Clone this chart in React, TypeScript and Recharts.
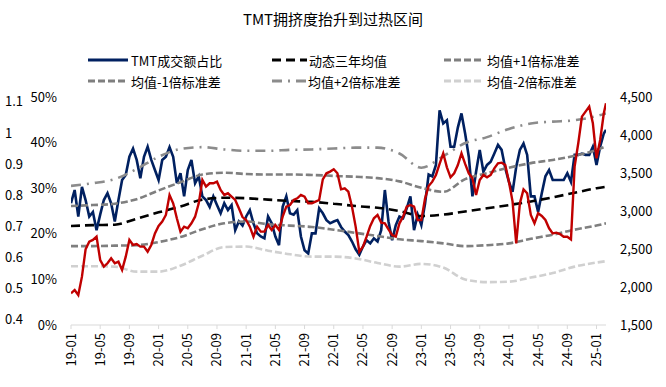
import React from 'react';
import { LineChart, Line, XAxis, YAxis } from 'recharts';

const FONT = '"Noto Sans CJK SC", "Noto Sans", sans-serif';

// TMT成交额占比 (%), semi-monthly observations from 2019-01, last one 2025-02-10
const shareValues: number[] = [
  26.7, 29.6, 23.8, 30.3, 27.4, 23.8, 24.8, 20.8, 24.2, 27.4, 28.9, 26.7,
  22.7, 27.4, 31.8, 32.9, 36.9, 38.7, 36.2, 32.2, 36.9, 39.1, 36.2, 34.0,
  31.8, 36.2, 36.9, 39.0, 36.9, 31.1, 33.3, 28.2, 34.0, 36.2, 31.1, 32.6,
  28.2, 27.4, 25.9, 28.2, 26.3, 24.5, 26.7, 25.2, 26.3, 20.8, 22.7, 21.8,
  23.8, 25.2, 22.3, 20.1, 19.4, 19.0, 23.8, 22.3, 19.4, 17.5, 25.9, 28.2,
  24.5, 24.2, 25.2, 19.4, 16.4, 15.7, 20.1, 20.1, 25.6, 24.5, 23.0, 22.3,
  22.7, 23.0, 21.5, 20.5, 19.7, 18.3, 16.6, 15.4, 17.2, 18.6, 17.9, 19.0,
  18.3, 20.8, 29.6, 22.7, 18.6, 21.9, 23.8, 23.4, 25.6, 28.2, 20.8, 24.2,
  21.9, 26.5, 33.0, 32.6, 35.1, 47.1, 44.2, 44.9, 39.1, 39.1, 43.3, 46.4,
  42.0, 36.9, 28.2, 33.6, 38.4, 33.6, 35.1, 35.8, 37.6, 39.5, 38.4, 34.4,
  31.4, 29.2, 34.7, 38.4, 39.8, 37.3, 28.2, 28.2, 24.8, 28.9, 32.6, 34.0,
  31.8, 31.8, 31.8, 31.8, 33.3, 31.4, 37.3, 37.3, 37.6, 37.3, 37.3, 39.1,
  35.1, 39.1, 42.0, 42.8,
];

// TMT index (right axis), same observation dates
const indexValues: number[] = [
  1917, 1961, 1895, 2136, 2496, 2597, 2619, 2662, 2355, 2268, 2312, 2377,
  2312, 2333, 2224, 2399, 2619, 2553, 2566, 2531, 2531, 2465, 2553, 2706,
  2803, 2860, 2948, 3211, 3101, 2904, 2728, 2794, 2772, 2838, 2925, 3101,
  3408, 3320, 3365, 3365, 3386, 3277, 3211, 3233, 3189, 3145, 3035, 2920,
  2882, 2794, 2662, 2794, 2728, 2728, 2816, 2750, 2816, 2750, 2925, 3057,
  3079, 3145, 3167, 3211, 3189, 3101, 3101, 3123, 3145, 3417, 3496, 3518,
  3549, 3496, 3285, 3298, 3255, 3057, 2794, 2465, 2531, 2662, 2803, 2904,
  2948, 2847, 2838, 2759, 2684, 2662, 2838, 2925, 3057, 3079, 3057, 2882,
  2880, 3160, 3329, 3386, 3474, 3619, 3759, 3575, 3443, 3496, 3605, 3759,
  3619, 3496, 3430, 3211, 3408, 3474, 3443, 3474, 3562, 3627, 3636, 3605,
  3386, 3123, 2575, 3101, 3285, 3233, 2948, 2838, 2970, 2935, 2882, 2772,
  2706, 2715, 2697, 2662, 2662, 2627, 3584, 3891, 4242, 4308, 4373, 4154,
  3693, 3935, 4286, 4417,
];

// months since 2019-01 for the band series
const bandMonths: number[] = [0, 3, 6, 9, 12, 15, 18, 21, 24, 27, 30, 33, 36, 39, 42, 45, 48, 51, 54, 57, 60, 63, 66, 69, 72, 73.3];
const mean3y: number[] = [21.7, 21.9, 22.0, 23.3, 24.7, 26.0, 27.5, 27.9, 27.8, 27.5, 27.2, 27.0, 26.6, 26.1, 25.7, 25.0, 23.9, 24.2, 24.9, 25.6, 26.3, 27.1, 28.0, 29.0, 30.0, 30.3];
const plus1: number[] = [26.1, 26.3, 26.6, 27.6, 29.5, 31.3, 33.0, 33.4, 33.1, 33.0, 33.0, 32.9, 32.7, 32.5, 32.2, 31.5, 30.1, 29.2, 32.0, 33.3, 34.5, 35.5, 36.2, 37.1, 38.4, 39.2];
const minus1: number[] = [17.3, 17.3, 17.4, 17.5, 18.2, 19.3, 21.0, 22.3, 22.7, 22.1, 21.8, 21.5, 20.9, 20.2, 19.5, 18.8, 18.4, 17.9, 17.3, 17.5, 17.9, 18.9, 19.8, 20.9, 21.8, 22.3];
const plus2: number[] = [30.5, 31.1, 32.0, 34.2, 36.9, 38.6, 39.0, 38.5, 38.2, 38.2, 38.4, 38.5, 38.7, 38.9, 38.9, 37.6, 34.5, 37.0, 39.9, 41.2, 43.0, 44.2, 44.6, 44.9, 45.8, 46.4];
const minus2: number[] = [12.9, 12.9, 12.8, 11.7, 11.7, 13.0, 15.2, 17.1, 17.2, 16.3, 15.5, 15.0, 15.0, 14.6, 13.6, 12.8, 13.4, 12.6, 10.0, 9.4, 9.5, 10.4, 11.4, 12.8, 13.7, 14.0];

const xTicks: number[] = [0, 4, 8, 12, 16, 20, 24, 28, 32, 36, 40, 44, 48, 52, 56, 60, 64, 68, 72];
const pctTicks: number[] = [0, 10, 20, 30, 40, 50];
const ratioTicks: number[] = [0.4, 0.5, 0.6, 0.7, 0.8, 0.9, 1, 1.1];
const indexTicks: number[] = [1500, 2000, 2500, 3000, 3500, 4000, 4500];

const LAST_MONTH = 73.3;
const obsMonths = shareValues.map((_, i) => (i < shareValues.length - 1 ? i / 2 : LAST_MONTH));
const mainData = shareValues.map((v, i) => ({ t: obsMonths[i], share: v, idx: indexValues[i] }));
const bandData = bandMonths.map((t, i) => ({
  t,
  mean: mean3y[i],
  p1: plus1[i],
  m1: minus1[i],
  p2: plus2[i],
  m2: minus2[i],
}));

const fmtMonth = (t: number) => {
  const y = 19 + Math.floor(t / 12);
  const m = (t % 12) + 1;
  return `${y}-${m < 10 ? '0' + m : m}`;
};

const PctTick = (props: any) => (
  <text x={57} y={props.y} dy={4.5} textAnchor="end" fontSize={13} fill="#000" fontFamily={FONT}>
    {props.payload.value}%
  </text>
);
const RatioTick = (props: any) => {
  const v = props.payload.value as number;
  return (
    <text x={5} y={props.y} dy={4.5} textAnchor="start" fontSize={13} fill="#000" fontFamily={FONT}>
      {v === 1 ? '1' : v.toFixed(1)}
    </text>
  );
};
const IndexTick = (props: any) => (
  <text x={620} y={props.y} dy={4.5} textAnchor="start" fontSize={13} fill="#000" fontFamily={FONT}>
    {Number(props.payload.value).toLocaleString('en-US')}
  </text>
);
const DateTick = (props: any) => {
  const bx = props.x + 4.5;
  const by = 333;
  return (
    <text x={bx} y={by} textAnchor="end" fontSize={13} fill="#000" fontFamily={FONT} transform={`rotate(-90 ${bx} ${by})`}>
      {fmtMonth(props.payload.value)}
    </text>
  );
};

const legendItems = [
  { x: 88, w: 40, y: 60, tx: 131, label: 'TMT成交额占比', stroke: '#002060', dash: undefined as string | undefined },
  { x: 272, w: 35, y: 60, tx: 309, label: '动态三年均值', stroke: '#000000', dash: '9 5' },
  { x: 444, w: 38, y: 60, tx: 487, label: '均值+1倍标准差', stroke: '#7f7f7f', dash: '7 3' },
  { x: 88, w: 40, y: 81, tx: 131, label: '均值-1倍标准差', stroke: '#7f7f7f', dash: '7 3' },
  { x: 272, w: 35, y: 81, tx: 308, label: '均值+2倍标准差', stroke: '#8c8c8c', dash: '10 6 2 6' },
  { x: 444, w: 38, y: 81, tx: 487, label: '均值-2倍标准差', stroke: '#d0d0d0', dash: '7 3' },
];

export default function App() {
  return (
    <div style={{ position: 'absolute', left: 0, top: 0, width: 666, height: 387, background: '#fff' }}>
      <LineChart width={666} height={387} margin={{ top: 97, right: 0, bottom: 0, left: 0 }}>
        <XAxis
          xAxisId="x"
          type="number"
          dataKey="t"
          domain={[0, LAST_MONTH]}
          ticks={xTicks}
          interval={0}
          height={62}
          allowDataOverflow
          axisLine={{ stroke: '#d9d9d9' }}
          tickLine={{ stroke: '#d9d9d9' }}
          tickSize={4}
          tick={<DateTick />}
        />
        <YAxis yAxisId="pct" orientation="left" width={38} domain={[0, 50]} ticks={pctTicks} axisLine={false} tickLine={false} tick={<PctTick />} allowDataOverflow />
        <YAxis yAxisId="ratio" orientation="left" width={33} domain={[0.382, 1.116]} ticks={ratioTicks} axisLine={false} tickLine={false} tick={<RatioTick />} allowDataOverflow />
        <YAxis yAxisId="idx" orientation="right" width={60} domain={[1500, 4500]} ticks={indexTicks} axisLine={false} tickLine={false} tick={<IndexTick />} allowDataOverflow />

        <Line xAxisId="x" yAxisId="pct" data={mainData} dataKey="share" type="linear" stroke="#002060" strokeWidth={2.6} dot={false} isAnimationActive={false} />
        <Line xAxisId="x" yAxisId="pct" data={bandData} dataKey="mean" type="monotone" stroke="#000000" strokeWidth={2.6} strokeDasharray="9 5" dot={false} isAnimationActive={false} />
        <Line xAxisId="x" yAxisId="pct" data={bandData} dataKey="p1" type="monotone" stroke="#7f7f7f" strokeWidth={2.6} strokeDasharray="7 3" dot={false} isAnimationActive={false} />
        <Line xAxisId="x" yAxisId="pct" data={bandData} dataKey="m1" type="monotone" stroke="#7f7f7f" strokeWidth={2.6} strokeDasharray="7 3" dot={false} isAnimationActive={false} />
        <Line xAxisId="x" yAxisId="pct" data={bandData} dataKey="p2" type="monotone" stroke="#8c8c8c" strokeWidth={2.6} strokeDasharray="10 6 2 6" dot={false} isAnimationActive={false} />
        <Line xAxisId="x" yAxisId="pct" data={bandData} dataKey="m2" type="monotone" stroke="#d0d0d0" strokeWidth={2.6} strokeDasharray="7 3" dot={false} isAnimationActive={false} />
        <Line xAxisId="x" yAxisId="idx" data={mainData} dataKey="idx" type="linear" stroke="#C00000" strokeWidth={2.4} dot={false} isAnimationActive={false} />
      </LineChart>
      <svg width={666} height={97} style={{ position: 'absolute', left: 0, top: 0 }}>
        <text x={333} y={18} textAnchor="middle" dominantBaseline="central" fontSize={15} fill="#000" fontFamily={FONT}>
          TMT拥挤度抬升到过热区间
        </text>
        {legendItems.map((it) => (
          <g key={it.label}>
            <line x1={it.x} x2={it.x + it.w} y1={it.y} y2={it.y} stroke={it.stroke} strokeWidth={3} strokeDasharray={it.dash} />
            <text x={it.tx} y={it.y} dominantBaseline="central" fontSize={13} fill="#000" fontFamily={FONT}>
              {it.label}
            </text>
          </g>
        ))}
      </svg>
    </div>
  );
}
